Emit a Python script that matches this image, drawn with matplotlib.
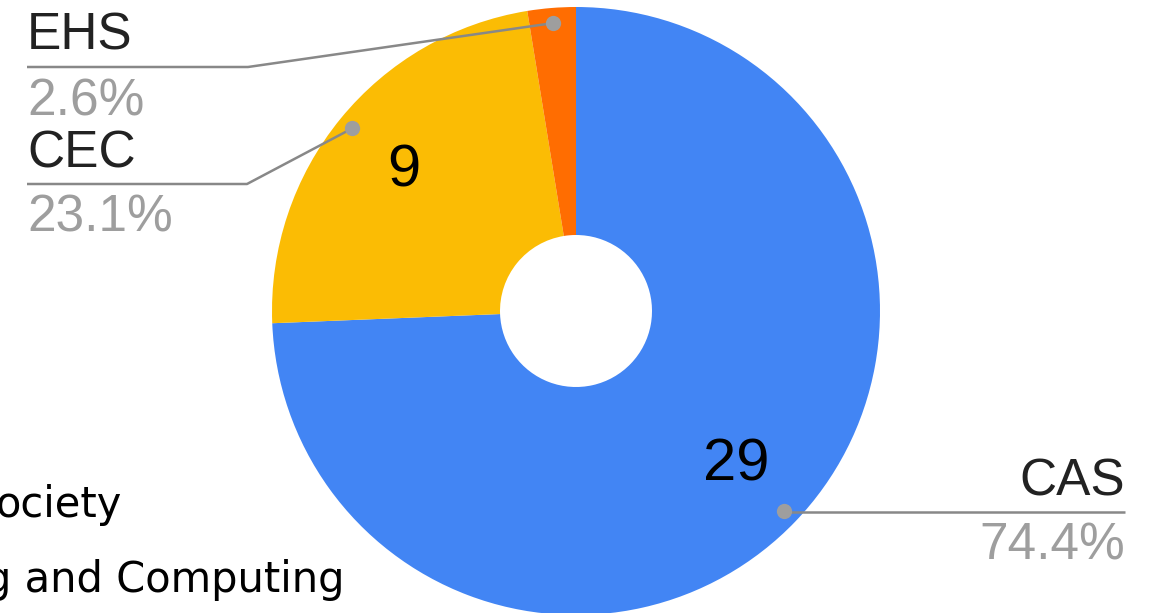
import numpy as np
import matplotlib
matplotlib.use('Agg')
import matplotlib.pyplot as plt

# Counts per school (clockwise from 12 o'clock)
SCHOOLS = ['CAS', 'CEC', 'EHS']
COUNTS = [29, 9, 1]
COLORS = ['#4285F4', '#FBBC04', '#FF6D01']
LEGEND_TAIL = ['ociety', 'g and Computing']

W, H = 1151, 613
CX, CY, R, HOLE = 576, H - 311, 304, 76

fig = plt.figure(figsize=(W / 100, H / 100), dpi=100)
ax = fig.add_axes([0, 0, 1, 1])

total = sum(COUNTS)
ax.pie(COUNTS, colors=COLORS, startangle=90, counterclock=False,
       center=(CX, CY), radius=R,
       wedgeprops=dict(width=R - HOLE, edgecolor='none', antialiased=True),
       autopct=lambda p: f'{round(p * total / 100)}' if p > 5 else '',
       pctdistance=0.73,
       textprops=dict(fontsize=43, family='Liberation Sans', color='black'))
ax.set_xlim(0, W)
ax.set_ylim(0, H)
ax.set_aspect('auto')
ax.axis('off')

# leader lines + labels (name above line, percentage below)
frac = np.array(COUNTS) / total
mid = 90 - 360 * (np.cumsum(frac) - frac / 2)
line_col, dot_col, pct_col = '#888888', '#9e9e9e', '#9e9e9e'
# label anchors: (side, line y in px, label x, elbow x)
anchors = {'CAS': ('right', 512, 1125, None),
           'CEC': ('left', 184, 27, 247),
           'EHS': ('left', 67, 27, 248)}

for name, a, f in zip(SCHOOLS, mid, frac):
    side, ly, lx, ex = anchors[name]
    dx = CX + 0.95 * R * np.cos(np.radians(a))
    dy = CY + 0.95 * R * np.sin(np.radians(a))
    y = H - ly
    if side == 'left':
        ax.plot([lx, ex, dx], [y, y, dy], color=line_col, lw=1.8,
                solid_capstyle='butt', zorder=3)
        ha = 'left'
    else:
        ax.plot([dx, lx], [y, y], color=line_col, lw=1.8,
                solid_capstyle='butt', zorder=3)
        ha = 'right'
    ax.plot(dx, dy, 'o', color=dot_col, ms=11, mec='none', zorder=4)
    ax.text(lx, y + 17, name, ha=ha, va='baseline', fontsize=37,
            family='Liberation Sans', color='#222222')
    ax.text(lx, y - 48, f'{f * 100:.1f}%', ha=ha, va='baseline', fontsize=37,
            family='Liberation Sans', color=pct_col)

# cut-off legend entries at bottom left
ax.text(122, H - 517, LEGEND_TAIL[0], ha='right', va='baseline', fontsize=30,
        family='DejaVu Sans', color='black')
ax.text(345, H - 592, LEGEND_TAIL[1], ha='right', va='baseline', fontsize=30,
        family='DejaVu Sans', color='black')

plt.savefig('out.png', dpi=100)
